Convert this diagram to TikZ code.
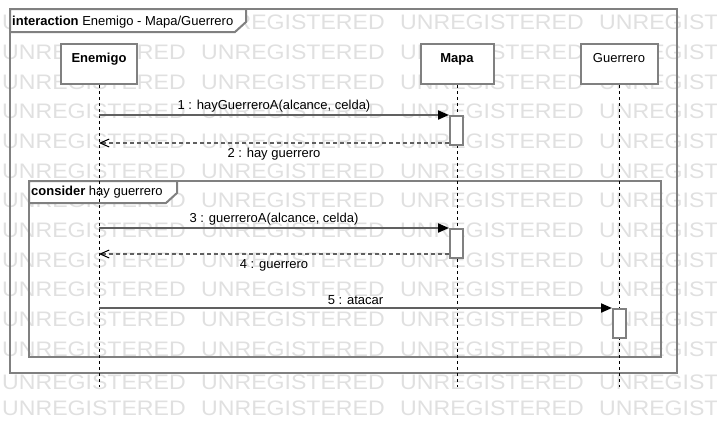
\documentclass[tikz,border=0pt]{standalone}
\usepackage{fontspec}
\setmainfont{Liberation Sans}
\usepackage{tikz}
\usetikzlibrary{arrows.meta}

\definecolor{framegray}{RGB}{128,128,128}
\definecolor{msggray}{RGB}{96,96,96}
\definecolor{markgray}{RGB}{224,224,224}

\tikzset{
  umlfont/.style={font=\fontsize{13}{15}\selectfont},
  watermark/.style={text=markgray, font=\fontsize{21}{21}\selectfont, anchor=west, inner sep=0pt, xscale=1.1},
  fragframe/.style={draw=framegray, line width=2pt},
  fraglabel/.style={umlfont, anchor=west, inner sep=0pt},
  headbox/.style={umlfont, draw=framegray, line width=2pt, fill=white, minimum height=40pt,
    inner ysep=5pt, text height=13pt, text depth=17pt},
  actbox/.style={draw=framegray, line width=2pt, fill=white, minimum width=13pt, minimum height=29pt, inner sep=0pt},
  lifeline/.style={black, line width=1pt, dash pattern=on 3pt off 3pt},
  call/.style={msggray, line width=2pt, -{Triangle[length=11pt,width=9pt,black]}},
  reply/.style={msggray, line width=2pt, dash pattern=on 4pt off 3pt,
    -{Straight Barb[length=9pt,width=8pt,line width=1pt,black]}},
  calllabel/.style={umlfont, text=black, midway, above, inner sep=2pt},
  replylabel/.style={umlfont, text=black, midway, below, inner sep=4.5pt}
}

\begin{document}
\begin{tikzpicture}[x=1pt, y=-1pt]
\useasboundingbox (0,0) rectangle (717,429);

\begin{scope}
\clip (0,0) rectangle (717,429);
\foreach \wy in {22,52,82,111,141,171,200,230,260,289,319,349,382,408}
  \foreach \wx in {2,201,400,599}
    \node[watermark] (wm-\wx-\wy) at (\wx,\wy) {UNREGISTERED};
\end{scope}

% interaction frame
\draw[fragframe] (10,9) rectangle (677,373);
\draw[fragframe, fill=white] (10,9) -- (246,9) -- (246,22) -- (235,32) -- (10,32) -- cycle;
\node[fraglabel] (title) at (12,22) {\textbf{interaction} Enemigo - Mapa/Guerrero};

% consider fragment
\draw[fragframe] (29,181) rectangle (661,357);
\draw[fragframe, fill=white] (29,181) -- (177,181) -- (177,193) -- (166,203) -- (29,203) -- cycle;
\node[fraglabel] (consider) at (31,192) {\textbf{consider} hay guerrero};

\node[headbox, minimum width=76pt] (enemigo) at (99,64) {\textbf{Enemigo}};
\node[headbox, minimum width=73pt] (mapa) at (457,64) {\textbf{Mapa}};
\node[headbox, minimum width=77pt] (guerrero) at (619,64) {Guerrero};

\coordinate (enemigo-end) at (99,387);
\coordinate (mapa-end) at (457,387);
\coordinate (guerrero-end) at (619,387);
\draw[lifeline] (enemigo.south) -- (enemigo-end);
\draw[lifeline] (mapa.south) -- (mapa-end);
\draw[lifeline] (guerrero.south) -- (guerrero-end);

\node[actbox] (act1) at (456.5,130.5) {};
\node[actbox] (act2) at (456.5,243.5) {};
\node[actbox] (act3) at (619.5,323.5) {};
\coordinate[yshift=3pt] (ret1) at (act1.south west);
\coordinate[yshift=5pt] (ret2) at (act2.south west);

\draw[call] (enemigo |- act1.north) -- (act1.north west) node[calllabel] {1 : hayGuerreroA(alcance, celda)};
\draw[reply] (ret1) -- (enemigo |- ret1) node[replylabel] {2 : hay guerrero};
\draw[call] (enemigo |- act2.north) -- (act2.north west) node[calllabel] {3 : guerreroA(alcance, celda)};
\draw[reply] (ret2) -- (enemigo |- ret2) node[replylabel] {4 : guerrero};
\draw[call] (enemigo |- act3.north) -- (act3.north west) node[calllabel] {5 : atacar};
\end{tikzpicture}
\end{document}
